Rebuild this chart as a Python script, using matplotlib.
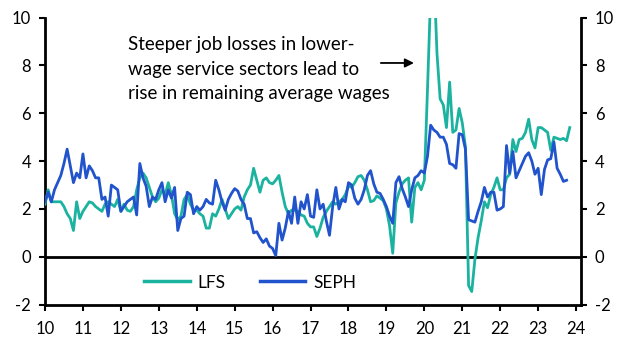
import numpy as np
import matplotlib
matplotlib.use("Agg")
import matplotlib.pyplot as plt

plt.rcParams['font.family'] = ['Lato', 'DejaVu Sans']

start_year = 10  # Jan 2010, monthly data

seph = [
    2.3, 2.7, 2.3, 2.8, 3.1, 3.4, 3.9, 4.5, 3.8, 3.1, 3.5, 3.3,
    4.3, 3.3, 3.8, 3.6, 3.3, 3.3, 2.4, 2.5, 1.7, 3.0, 2.9, 2.8,
    1.9, 2.1, 2.3, 2.4, 2.5, 1.75, 3.9, 3.3, 2.95, 2.1, 2.5, 2.4,
    2.8, 3.1, 2.3, 2.8, 2.45, 2.9, 1.1, 1.6, 1.7, 2.7, 2.6, 1.8,
    2.1, 1.95, 2.1, 2.4, 2.25, 2.2, 3.2, 2.8, 2.3, 1.95, 2.4, 2.65,
    2.85, 2.75, 2.4, 2.2, 1.6, 1.6, 1.0, 1.05, 0.8, 0.6, 0.75, 0.45,
    0.35, 0.05, 1.4, 0.7, 1.2, 1.9, 1.4, 2.5, 1.4, 2.3, 2.0, 2.6,
    1.7, 1.65, 2.8, 2.0, 2.2, 1.5, 0.9, 2.1, 2.9, 2.0, 2.4, 2.3,
    3.1, 3.0, 2.45, 2.2, 2.4, 2.8, 3.4, 3.6, 3.05, 2.7, 2.65, 2.4,
    2.1, 1.7, 1.4, 3.1, 3.35, 2.85, 2.5, 2.1, 2.8, 3.3, 3.4, 3.6,
    3.5, 4.2, 5.5, 5.3, 5.2, 5.0, 5.0, 4.7, 3.9, 3.85, 3.7, 5.15,
    5.1, 4.5, 1.55, 1.5, 1.45, 1.9, 2.3, 2.9, 2.5, 2.7, 2.7, 1.95,
    2.0, 2.1, 4.65, 3.5, 4.4, 3.3, 3.6, 3.9, 4.2, 4.35, 4.0, 3.45,
    3.7, 2.6, 3.65, 4.05, 4.1, 4.8, 3.7, 3.45, 3.15, 3.2,
]

lfs = [
    2.2, 2.8, 2.3, 2.3, 2.3, 2.3, 2.1, 1.8, 1.6, 1.1, 2.3, 1.6,
    1.9, 2.1, 2.3, 2.25, 2.1, 2.0, 1.9, 2.2, 2.3, 2.2, 2.1, 2.4,
    1.9, 2.2, 1.95, 1.9, 2.1, 2.8, 3.3, 3.5, 3.3, 2.9, 2.5, 2.3,
    2.45, 2.8, 2.6, 3.1, 2.6, 1.8, 1.55, 1.7, 2.4, 2.6, 2.2, 1.95,
    1.95, 1.8, 1.7, 1.2, 1.2, 1.8, 1.7, 2.0, 2.4, 2.0, 1.6, 1.8,
    2.0, 2.1, 1.95, 2.5, 2.8, 3.0, 3.7, 3.2, 2.7, 3.2, 3.3, 3.1,
    3.05, 3.2, 3.4, 2.7, 2.1, 1.8, 1.95, 1.95, 1.9, 1.75, 1.7, 1.4,
    1.25, 1.25, 0.85, 1.2, 1.65, 1.9, 2.1, 2.3, 2.2, 2.3, 2.4, 2.6,
    2.95, 2.9, 3.1, 3.35, 3.4, 3.2, 2.8, 2.3, 2.35, 2.55, 2.45, 2.35,
    2.0, 1.3, 0.15, 2.25, 2.7, 3.05, 3.2, 3.3, 1.45, 2.9, 3.1, 2.8,
    3.2, 7.0, 11.0, 12.0, 8.5, 6.6, 6.35, 5.4, 7.3, 5.2, 5.3, 6.2,
    5.6, 4.6, -1.2, -1.45, -0.1, 0.8, 1.5, 2.3, 2.05, 2.6, 2.9, 3.3,
    2.8, 2.8, 3.3, 3.45, 4.9, 4.4, 4.9, 4.95, 5.2, 5.75, 4.9, 4.55,
    5.4, 5.4, 5.3, 5.2, 4.45, 5.0, 4.95, 4.9, 4.95, 4.85, 5.4,
]

x_ticks = list(range(10, 25))
y_ticks = [-2, 0, 2, 4, 6, 8, 10]

annotation = "Steeper job losses in lower-\nwage service sectors lead to\nrise in remaining average wages"

teal = '#1BB3A0'
blue = '#2153CC'

x_lfs = start_year + np.arange(len(lfs)) / 12.0
x_seph = start_year + np.arange(len(seph)) / 12.0

fig = plt.figure(figsize=(6.29, 3.55), dpi=100)
ax = fig.add_axes([45/629, 1 - 304.7/355, (581-45)/629, (304.7-17.5)/355])

ax.plot(x_lfs, lfs, color=teal, lw=2.0, label='LFS', zorder=3)
ax.plot(x_seph, seph, color=blue, lw=2.0, label='SEPH', zorder=4)
ax.axhline(0, color='black', lw=2.0, zorder=2)

ax.set_xlim(10, 24.13)
ax.set_ylim(-2, 10)
ax.set_xticks(x_ticks)
ax.set_xticklabels([str(t) for t in x_ticks])
ax.set_yticks(y_ticks)
ax.set_yticklabels([str(t) for t in y_ticks])

for s in ['left', 'right', 'bottom']:
    ax.spines[s].set_linewidth(2.0)
    ax.spines[s].set_color('black')
ax.spines['top'].set_visible(False)

ax.tick_params(axis='both', direction='out', length=4, width=1.5, labelsize=12)
ax.tick_params(axis='x', pad=8)
ax.tick_params(axis='y', right=True, labelright=True, pad=6)

ax.text((128-45)/536, 1 - (36-17.5)/287.2, annotation, transform=ax.transAxes,
        fontsize=13.5, va='top', ha='left', linespacing=1.55)
ax.annotate('', xy=(19.8, 8.1), xytext=(18.78, 8.1),
            arrowprops=dict(arrowstyle='-|>', color='black', lw=1.3,
                            mutation_scale=13))

leg = ax.legend(loc='lower center', bbox_to_anchor=(0.383, -0.005), ncol=2,
                frameon=False, fontsize=12.5, handlelength=2.6,
                columnspacing=2.0, handletextpad=0.45)
for l in leg.get_lines():
    l.set_linewidth(2.5)

fig.savefig('out.png', dpi=100)
